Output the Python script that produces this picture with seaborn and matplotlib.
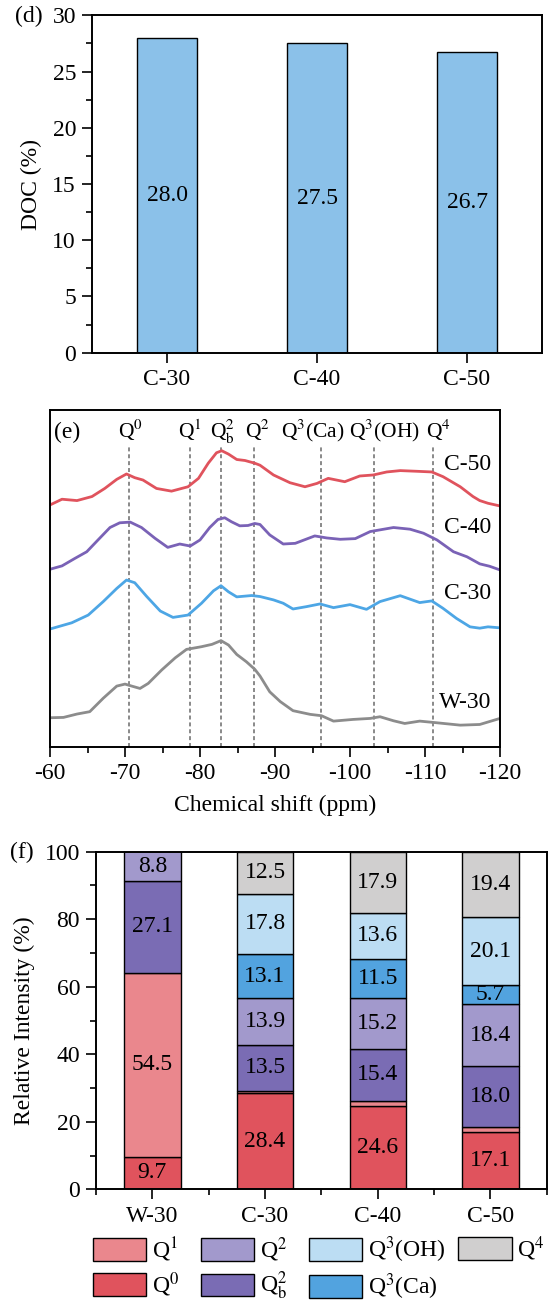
import numpy as np
import matplotlib
matplotlib.use("Agg")
import matplotlib.pyplot as plt
from matplotlib.patches import Patch
from matplotlib.ticker import MultipleLocator, FixedLocator
import seaborn as sns

# ---------------- data: panel (d) ----------------
doc_samples = ["C-30", "C-40", "C-50"]
doc_values = [28.0, 27.5, 26.7]

# ---------------- data: panel (e) 29Si NMR spectra ----------------
ppm_c50 = [-60.0, -61.6, -63.6, -65.6, -67.3, -68.9, -70.2, -71.3, -72.4, -74.2, -76.2, -78.4,
           -79.8, -81.1, -82.2, -82.9, -83.8, -84.9, -86.0, -87.3, -88.0, -89.8, -92.0, -94.0,
           -95.6, -97.1, -99.3, -101.3, -103.1, -104.9, -106.7, -108.9, -110.9, -112.4, -114.7,
           -116.4, -117.3, -118.4, -120.0]
int_c50 = [1.8, 3.5, 3.1, 4.3, 6.7, 9.4, 11.0, 9.9, 9.2, 6.7, 5.9, 7.2,
           9.7, 14.2, 17.3, 17.9, 16.9, 15.3, 15.0, 14.2, 13.6, 10.7, 8.4, 7.2,
           8.2, 9.7, 8.7, 10.4, 10.7, 11.6, 12.0, 11.8, 11.6, 10.2, 7.2,
           4.3, 3.1, 2.3, 1.5]

ppm_c40 = [-60.0, -61.6, -63.3, -64.9, -66.4, -68.0, -69.3, -70.7, -72.2, -74.0, -75.7, -77.3,
           -78.7, -80.0, -81.3, -82.4, -83.3, -84.2, -85.3, -86.4, -87.3, -88.0, -89.3, -91.1,
           -92.7, -95.3, -96.9, -98.7, -100.7, -102.7, -104.0, -105.8, -108.0, -109.8, -111.6,
           -113.8, -115.6, -117.3, -118.6, -120.0]
int_c40 = [2.7, 3.7, 5.9, 7.9, 11.4, 15.1, 16.5, 16.7, 15.1, 11.9, 9.2, 10.2,
           9.6, 11.4, 15.1, 17.5, 18.0, 16.8, 15.6, 15.7, 16.3, 16.0, 12.9, 10.2,
           10.4, 12.6, 12.0, 11.6, 11.8, 13.9, 14.4, 15.1, 14.6, 13.4, 11.4,
           7.9, 6.4, 4.3, 3.6, 2.5]

ppm_c30 = [-60.0, -62.9, -65.1, -67.1, -68.9, -70.2, -71.3, -72.9, -74.7, -76.4, -78.4, -80.2,
           -81.8, -82.8, -83.8, -84.9, -86.9, -88.0, -89.8, -91.1, -92.4, -94.2, -96.0, -97.8,
           -100.0, -102.2, -104.0, -106.7, -109.3, -110.9, -112.4, -114.2, -116.0, -117.3,
           -118.4, -120.0]
int_c30 = [1.95, 3.8, 6.1, 10.1, 14.0, 16.5, 15.7, 11.6, 7.3, 5.4, 6.1, 9.6,
           13.3, 14.8, 13.0, 11.5, 11.9, 11.6, 10.6, 9.6, 7.9, 8.6, 9.4, 8.3,
           9.2, 7.8, 10.1, 11.85, 9.8, 10.3, 8.1, 5.1, 2.6, 2.2,
           2.6, 2.3]

ppm_w30 = [-60.0, -61.8, -63.6, -65.3, -67.1, -68.9, -70.0, -70.9, -72.0, -73.1, -74.9, -76.7,
           -78.2, -80.2, -81.6, -82.8, -83.8, -84.9, -86.2, -87.3, -88.0, -89.3, -90.7, -92.4,
           -94.7, -96.2, -97.8, -100.4, -102.7, -104.0, -105.8, -107.3, -109.3, -111.6, -114.7,
           -117.3, -120.0]
int_w30 = [3.6, 3.7, 4.7, 5.4, 9.4, 13.0, 13.6, 13.0, 12.3, 13.8, 17.8, 21.4,
           23.9, 24.7, 25.4, 26.5, 25.2, 22.4, 20.2, 18.0, 16.0, 11.3, 8.4, 5.7,
           4.6, 4.2, 2.6, 3.1, 3.4, 3.9, 2.7, 1.9, 2.6, 2.1, 1.4,
           1.6, 3.4]

spectra_names = ["C-50", "C-40", "C-30", "W-30"]
spectra_offsets = [70, 50, 33, 5]
peak_names = ["Q$^0$", "Q$^1$", "Q$_\\mathrm{b}^2$", "Q$^2$", "Q$^3$(Ca)", "Q$^3$(OH)", "Q$^4$"]
peak_ppm = [-70.5, -78.7, -82.8, -87.2, -96.1, -103.2, -111.0]
peak_label_ppm = [-70.8, -78.6, -83.0, -87.7, -95.0, -104.6, -111.8]

# ---------------- data: panel (f) ----------------
f_samples = ["W-30", "C-30", "C-40", "C-50"]
q0 = [9.7, 28.4, 24.6, 17.1]
q1 = [54.5, 0.8, 1.6, 1.3]
qb2 = [27.1, 13.5, 15.4, 18.0]
q2 = [8.8, 13.9, 15.2, 18.4]
q3ca = [0.0, 13.1, 11.5, 5.7]
q3oh = [0.0, 17.8, 13.6, 20.1]
q4 = [0.0, 12.5, 17.9, 19.4]
species_labels = ["Q$^0$", "Q$^1$", "Q$_\\mathrm{b}^2$", "Q$^2$", "Q$^3$(Ca)", "Q$^3$(OH)", "Q$^4$"]

# ---------------- styling ----------------
sns.set_theme(style="ticks")
plt.rcParams["font.family"] = ["Liberation Serif", "DejaVu Serif"]
plt.rcParams["mathtext.fontset"] = "stix"
plt.rcParams["axes.unicode_minus"] = False
plt.rcParams["axes.edgecolor"] = "black"
plt.rcParams["axes.linewidth"] = 1.4
plt.rcParams["xtick.color"] = "black"
plt.rcParams["ytick.color"] = "black"
plt.rcParams["text.color"] = "black"
plt.rcParams["axes.labelcolor"] = "black"

FS = 17
doc_color = "#8BC1E9"
line_colors = ["#E0535D", "#7A62B6", "#4DA6E5", "#8C8C8C"]
species_colors = ["#E0535D", "#EA878D", "#7A6CB4", "#A299CC", "#52A3DF", "#BCDDF3", "#D0CFCF"]

W, H = 550, 1301
fig = plt.figure(figsize=(W / 100, H / 100), dpi=100)


def px_axes(left, top, right, bottom):
    return fig.add_axes([left / W, 1 - bottom / H, (right - left) / W, (bottom - top) / H])


def style_ticks(ax):
    ax.tick_params(which="major", direction="out", length=7.5, width=1.2, labelsize=FS, pad=4)
    ax.tick_params(which="minor", direction="out", length=4, width=1.2)
    ax.tick_params(top=False, right=False, which="both")
    for s in ax.spines.values():
        s.set_visible(True)
        s.set_linewidth(1.4)
        s.set_color("black")


# ---------------- panel (d) ----------------
ax_d = px_axes(92, 15.3, 542, 352.7)
sns.barplot(x=doc_samples, y=doc_values, order=doc_samples, color=doc_color, saturation=1,
            width=0.4, edgecolor="black", linewidth=1.0, errorbar=None, ax=ax_d)
ax_d.bar_label(ax_d.containers[0], labels=[f"{v:.1f}" for v in doc_values],
               label_type="center", fontsize=FS)
ax_d.set_xlim(-0.5, 2.5)
ax_d.set_ylim(0, 30)
ax_d.yaxis.set_major_locator(MultipleLocator(5))
ax_d.yaxis.set_minor_locator(MultipleLocator(2.5))
style_ticks(ax_d)
ax_d.tick_params(axis="x", which="minor", bottom=False)
ax_d.set_xlabel("")
ax_d.set_ylabel("DOC (%)", fontsize=FS)
ax_d.yaxis.set_label_coords(-0.112, 0.5)
fig.text(15.0 / W, 1 - 16.5 / H, "(d)", fontsize=FS, ha="left", va="center")

# ---------------- panel (e) ----------------
ax_e = px_axes(50, 410, 500, 746.7)
spectra_ppm = [ppm_c50, ppm_c40, ppm_c30, ppm_w30]
spectra_int = [int_c50, int_c40, int_c30, int_w30]
for ppm, inten, off, col in zip(spectra_ppm, spectra_int, spectra_offsets, line_colors):
    sns.lineplot(x=ppm, y=np.asarray(inten) + off, color=col, linewidth=2.0,
                 estimator=None, ax=ax_e)
ax_e.set_xlim(-60, -120)
ax_e.set_ylim(0, 100)
for p in peak_ppm:
    ax_e.axvline(p, ymin=0, ymax=0.896, color="#6a6a6a", linewidth=1.1,
                 linestyle=(0, (2.6, 1.9)), zorder=1)
for name, xp in zip(peak_names, peak_label_ppm):
    ax_e.text(xp, 91.8, name, fontsize=15.5, ha="center", va="baseline")
label_y = [0.837, 0.650, 0.454, 0.130]
for name, ly in zip(spectra_names, label_y):
    ax_e.text(0.98, ly, name, transform=ax_e.transAxes, fontsize=FS, ha="right", va="center")
ax_e.text(0.009, 0.917, "(e)", transform=ax_e.transAxes, fontsize=FS, ha="left", va="baseline")
ax_e.xaxis.set_major_locator(MultipleLocator(10))
ax_e.xaxis.set_minor_locator(MultipleLocator(5))
style_ticks(ax_e)
ax_e.tick_params(axis="y", which="both", left=False, labelleft=False)
ax_e.tick_params(axis="x", which="major", pad=4.5)
ax_e.set_ylabel("")
ax_e.set_xlabel("Chemical shift (ppm)", fontsize=FS)
ax_e.xaxis.set_label_coords(0.5, -0.143)

# ---------------- panel (f) ----------------
ax_f = px_axes(96, 851.7, 546.7, 1189.3)
species_values = [q0, q1, qb2, q2, q3ca, q3oh, q4]
bottom = np.zeros(len(f_samples))
for vals, col in zip(species_values, species_colors):
    sns.barplot(x=f_samples, y=vals, order=f_samples, bottom=bottom, color=col, saturation=1,
                width=0.5, edgecolor="black", linewidth=1.0, errorbar=None, ax=ax_f)
    labs = [f"{v:.1f}" if v >= 5 else "" for v in vals]
    ax_f.bar_label(ax_f.containers[-1], labels=labs, label_type="center", fontsize=FS)
    bottom = bottom + np.asarray(vals)
ax_f.set_xlim(-0.5, 3.5)
ax_f.set_ylim(0, 100)
ax_f.yaxis.set_major_locator(MultipleLocator(20))
ax_f.yaxis.set_minor_locator(MultipleLocator(10))
ax_f.xaxis.set_minor_locator(FixedLocator([-0.5, 0.5, 1.5, 2.5, 3.5]))
style_ticks(ax_f)
ax_f.tick_params(axis="x", which="major", pad=4.5)
ax_f.set_xlabel("")
ax_f.set_ylabel("Relative Intensity (%)", fontsize=FS)
ax_f.yaxis.set_label_coords(-0.135, 0.5)
fig.text(10.0 / W, 1 - 852.5 / H, "(f)", fontsize=FS, ha="left", va="center")

leg_kw = dict(loc="upper left", frameon=False, fontsize=FS, handlelength=2.27,
              handleheight=1.1, handletextpad=0.25, columnspacing=0.9,
              labelspacing=0.28, borderpad=0, borderaxespad=0)
order_main = [1, 0, 3, 2, 5, 4]
handles1 = [Patch(facecolor=species_colors[i], edgecolor="black", linewidth=1.0) for i in order_main]
labels1 = [species_labels[i] for i in order_main]
leg1 = ax_f.legend(handles1, labels1, ncol=3, bbox_to_anchor=(-0.0073, -0.134), **leg_kw)
ax_f.add_artist(leg1)
handles2 = [Patch(facecolor=species_colors[6], edgecolor="black", linewidth=1.0)]
ax_f.legend(handles2, [species_labels[6]], ncol=1, bbox_to_anchor=(0.803, -0.134), **leg_kw)

fig.savefig("out.png", dpi=100)
